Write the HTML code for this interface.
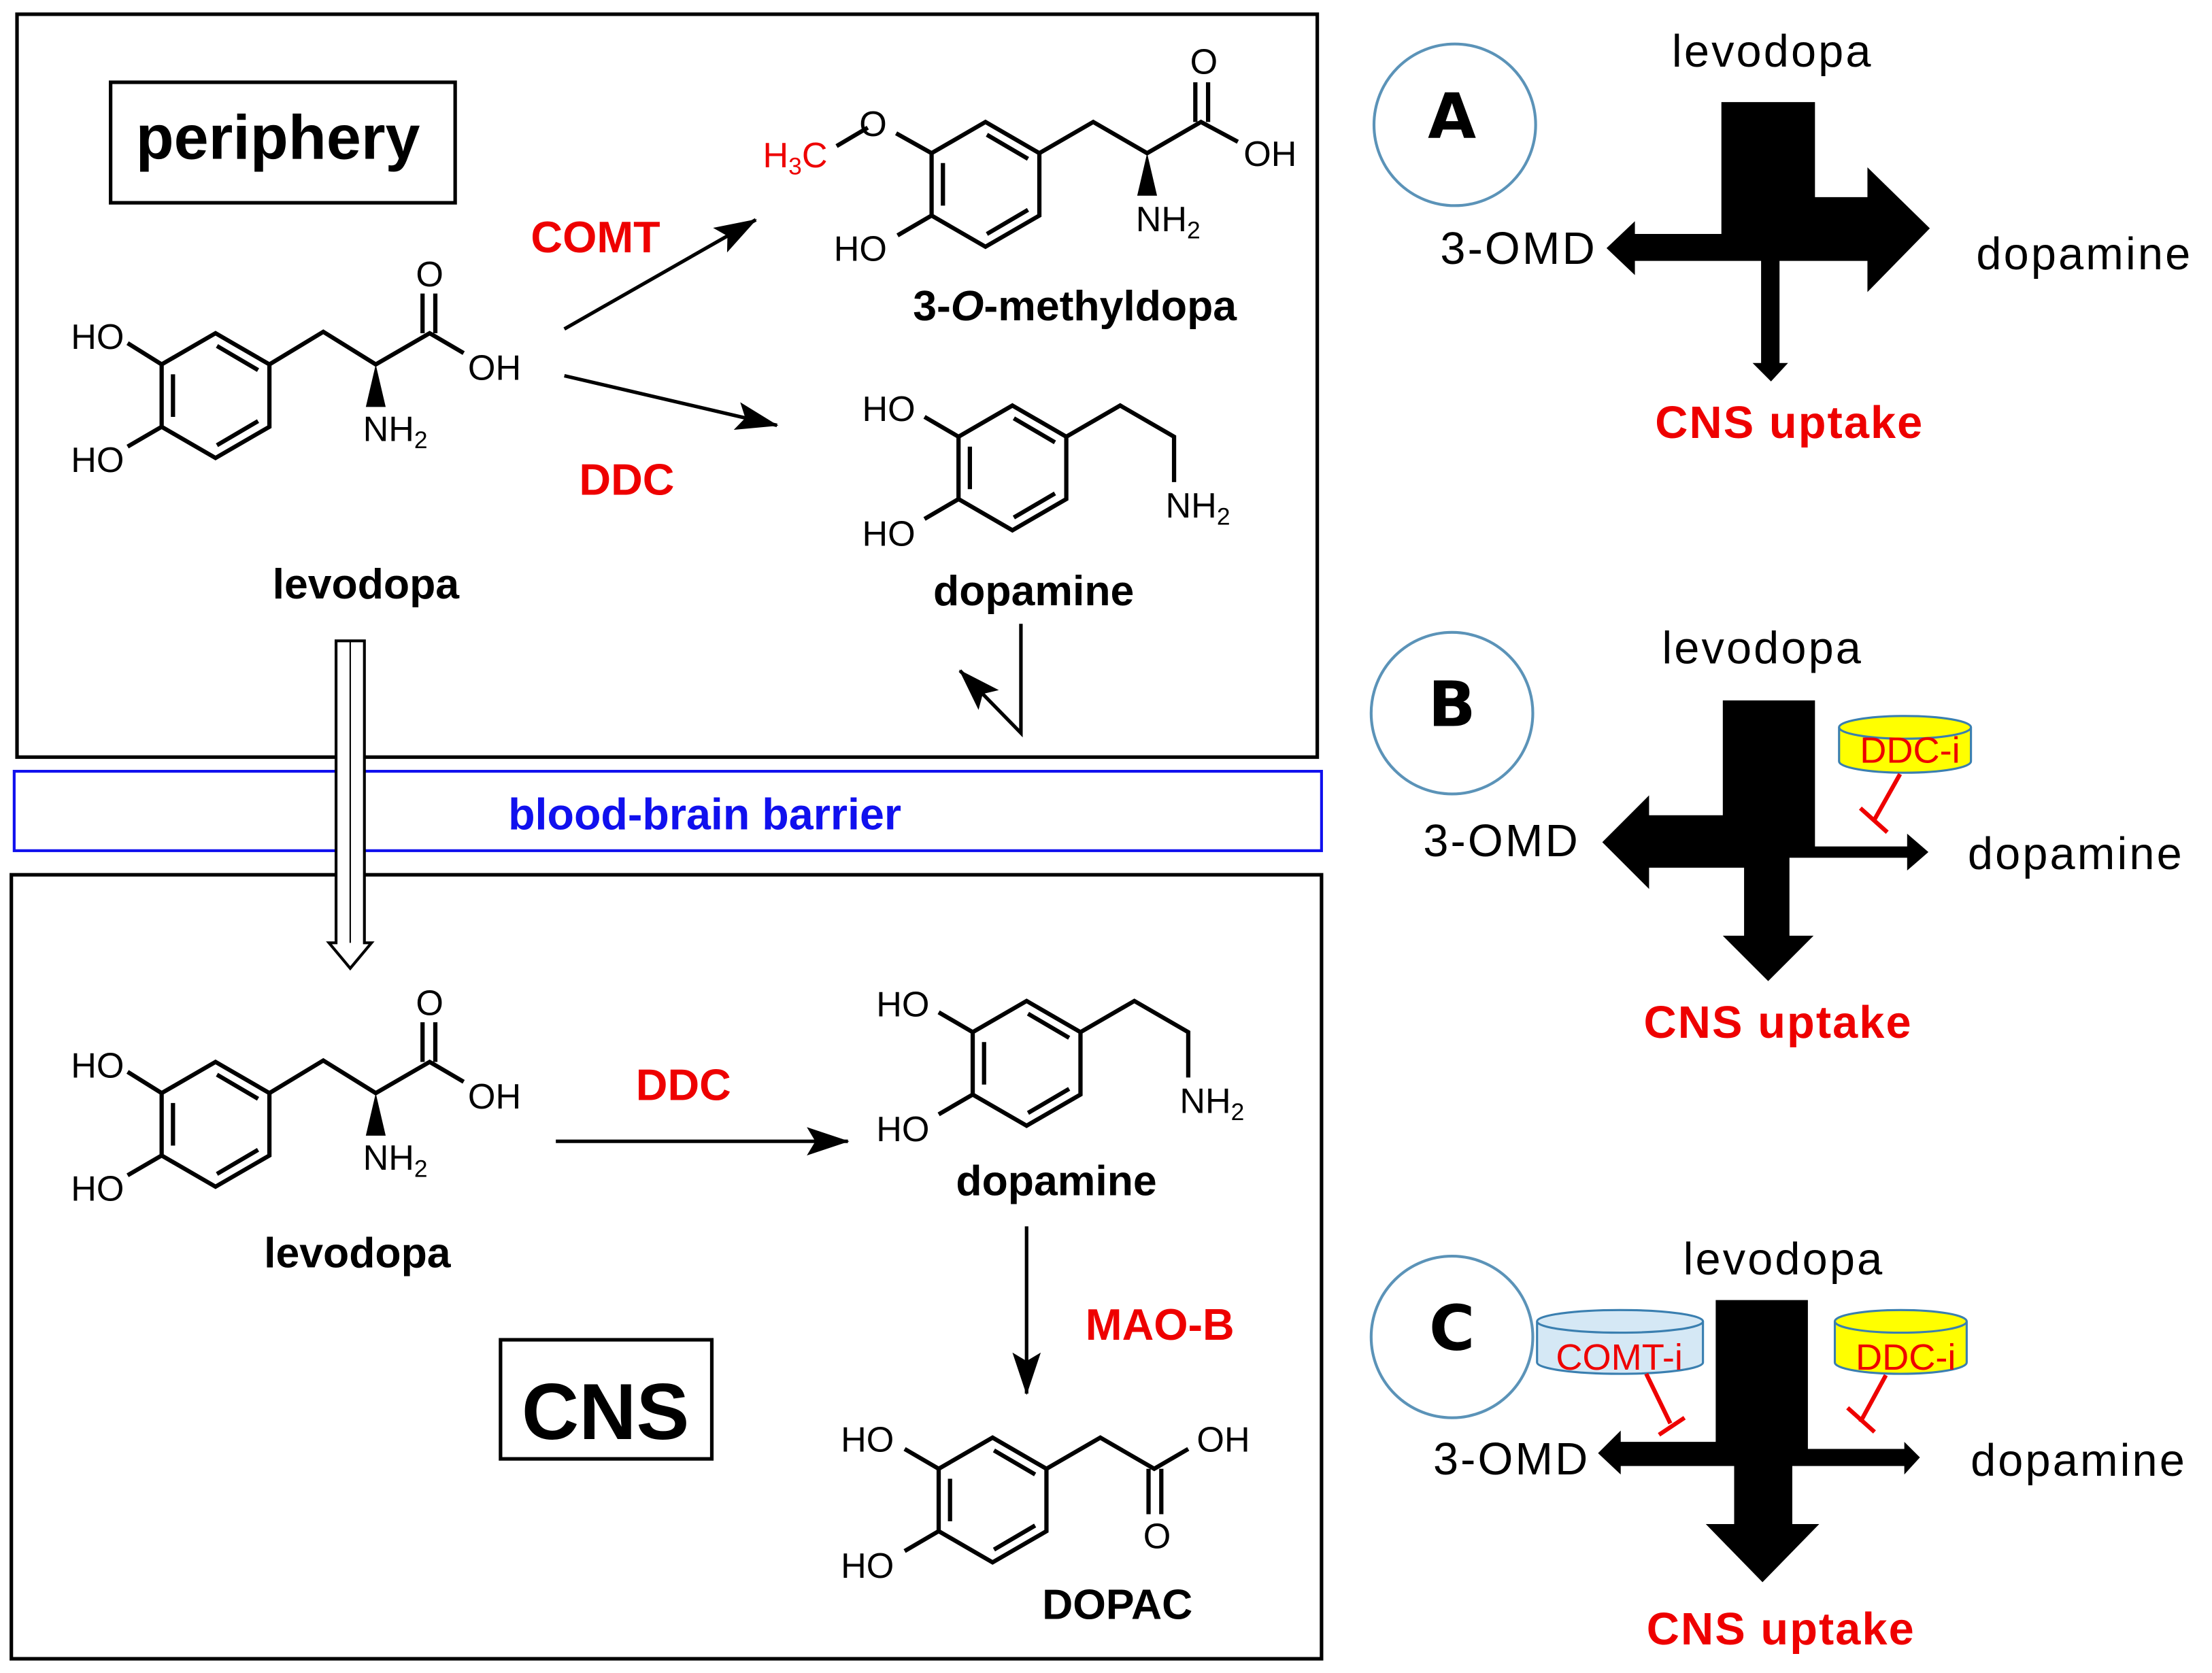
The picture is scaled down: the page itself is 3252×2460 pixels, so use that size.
<!DOCTYPE html>
<html><head><meta charset="utf-8"><style>html,body{margin:0;padding:0;background:#fff}svg{display:block}</style></head><body>
<svg width="3252" height="2460" viewBox="0 0 1560 1180" xmlns="http://www.w3.org/2000/svg" font-family="Liberation Sans, sans-serif">
<defs>
<g id="ring" stroke="#000" stroke-width="3" fill="none">
<polygon points="0,-44 38,-22 38,22 0,44 -38,22 -38,-22"/>
<line x1="1" y1="-35" x2="30" y2="-18"/>
<line x1="-30" y1="-15" x2="-30" y2="15"/>
<line x1="1" y1="35" x2="30" y2="18"/>
</g>
<marker id="ah2" viewBox="0 0 30 20" refX="29" refY="10" markerWidth="30" markerHeight="20" markerUnits="userSpaceOnUse" orient="auto"><path d="M0,0 L30,10 L0,20 L6,10z" fill="#000"/></marker>
</defs>
<rect width="1560" height="1180" fill="#fff"/>
<rect x="12" y="10" width="917" height="524" fill="none" stroke="#000" stroke-width="2.5"/>
<rect x="78" y="58" width="243" height="85" fill="none" stroke="#000" stroke-width="2.5"/>
<text x="196" y="112" font-size="44" font-weight="bold" text-anchor="middle">periphery</text>
<rect x="10" y="544" width="922" height="56" fill="none" stroke="#1010ee" stroke-width="2"/>
<text x="497" y="585" font-size="31" font-weight="bold" fill="#1010ee" text-anchor="middle">blood-brain barrier</text>
<rect x="8" y="617" width="924" height="553" fill="none" stroke="#000" stroke-width="2.5"/>
<rect x="353" y="945" width="149" height="84" fill="none" stroke="#000" stroke-width="2.5"/>
<text x="427" y="1015" font-size="56" font-weight="bold" text-anchor="middle">CNS</text>

<g font-size="25">
<g id="ldopa">
<use href="#ring" x="152" y="279"/>
<g stroke="#000" stroke-width="3" fill="none">
<polyline points="190,257 228,234 265,257 303,235 327,249"/>
<line x1="298" y1="235" x2="298" y2="207"/><line x1="307" y1="235" x2="307" y2="207"/>
<line x1="114" y1="257" x2="90" y2="242"/><line x1="114" y1="301" x2="90" y2="315"/>
</g>
<polygon points="265,257 258,287 272,287" fill="#000"/>
<text x="303" y="202" text-anchor="middle">O</text>
<text x="330" y="268">OH</text>
<text x="50" y="246">HO</text>
<text x="50" y="333">HO</text>
<text x="256" y="311">NH<tspan font-size="17" dy="5">2</tspan></text>
</g>
<use href="#ldopa" y="514"/>
<use href="#ring" x="695" y="130"/>
<g stroke="#000" stroke-width="3" fill="none">
<polyline points="733,108 771,86 809,108 847,86 873,100"/>
<line x1="843" y1="86" x2="843" y2="58"/><line x1="852" y1="86" x2="852" y2="58"/>
<line x1="657" y1="108" x2="632" y2="94"/><line x1="612" y1="90" x2="590" y2="103"/>
<line x1="657" y1="152" x2="633" y2="166"/>
</g>
<polygon points="809,108 802,138 816,138" fill="#000"/>
<text x="849" y="52" text-anchor="middle">O</text>
<text x="877" y="117">OH</text>
<text x="606" y="96">O</text>
<text x="538" y="118" fill="#e00">H<tspan font-size="17" dy="5">3</tspan><tspan dy="-5">C</tspan></text>
<text x="588" y="184">HO</text>
<text x="801" y="163">NH<tspan font-size="17" dy="5">2</tspan></text>
<text x="758" y="226" font-size="30" font-weight="bold" text-anchor="middle">3-<tspan font-style="italic">O</tspan>-methyldopa</text>
<g id="dopa">
<use href="#ring" x="714" y="330"/>
<g stroke="#000" stroke-width="3" fill="none">
<polyline points="752,308 790,286 828,308 828,340"/>
<line x1="676" y1="308" x2="652" y2="294"/><line x1="676" y1="352" x2="652" y2="366"/>
</g>
<text x="608" y="297">HO</text>
<text x="608" y="385">HO</text>
<text x="822" y="365">NH<tspan font-size="17" dy="5">2</tspan></text>
</g>
<use href="#dopa" x="10" y="420"/>
<use href="#ring" x="700" y="1058"/>
<g stroke="#000" stroke-width="3" fill="none">
<polyline points="738,1036 776,1014 814,1036 838,1022"/>
<line x1="810" y1="1036" x2="810" y2="1068"/><line x1="819" y1="1036" x2="819" y2="1068"/>
<line x1="662" y1="1036" x2="638" y2="1022"/><line x1="662" y1="1080" x2="638" y2="1094"/>
</g>
<text x="816" y="1092" text-anchor="middle">O</text>
<text x="844" y="1024">OH</text>
<text x="593" y="1024">HO</text>
<text x="593" y="1113">HO</text>
</g>
<g font-size="30" font-weight="bold" text-anchor="middle">
<text x="258" y="422">levodopa</text>
<text x="729" y="427">dopamine</text>
<text x="252" y="894">levodopa</text>
<text x="745" y="843">dopamine</text>
<text x="788" y="1142">DOPAC</text>
</g>
<g font-size="31" font-weight="bold" fill="#e00" text-anchor="middle">
<text x="420" y="178">COMT</text>
<text x="442" y="349">DDC</text>
<text x="482" y="776">DDC</text>
<text x="818" y="945">MAO-B</text>
</g>
<g stroke="#000" stroke-width="2.5" fill="none">
<line x1="398" y1="232" x2="533" y2="155" marker-end="url(#ah2)"/>
<line x1="398" y1="265" x2="548" y2="300" marker-end="url(#ah2)"/>
<line x1="392" y1="805" x2="598" y2="805" marker-end="url(#ah2)"/>
<line x1="724" y1="865" x2="724" y2="983" marker-end="url(#ah2)"/>
<polyline points="720,440 720,517 677,473" marker-end="url(#ah2)"/>
</g>
<path d="M237,452 H257 V665 H262 L247,683 L232,665 H237 Z" fill="#fff" stroke="#000" stroke-width="2"/>
<line x1="247" y1="452" x2="247" y2="665" stroke="#000" stroke-width="1"/>

<!-- panel A -->
<circle cx="1026" cy="88" r="57" fill="none" stroke="#5b93b8" stroke-width="2"/>
<text x="1024" y="97" font-size="44" font-weight="bold" text-anchor="middle" font-family="DejaVu Sans, sans-serif">A</text>
<g font-size="32" text-anchor="middle" letter-spacing="1.5">
<text x="1250" y="47">levodopa</text>
<text x="1071" y="186">3-OMD</text>
<text x="1470" y="190">dopamine</text>
</g>
<text x="1262" y="309" font-size="32" font-weight="bold" fill="#e00" text-anchor="middle" letter-spacing="1">CNS uptake</text>
<path d="M1214,72 H1280 V139 H1317 V118 L1361,161 L1317,206 V184 H1255 V256 H1261 L1249,269 L1236,256 H1242 V184 H1153 V194 L1133,175 L1153,156 V165 H1214 Z" fill="#000"/>

<!-- panel B -->
<circle cx="1024" cy="503" r="57" fill="none" stroke="#5b93b8" stroke-width="2"/>
<text x="1024" y="512" font-size="44" font-weight="bold" text-anchor="middle" font-family="DejaVu Sans, sans-serif">B</text>
<g font-size="32" text-anchor="middle" letter-spacing="1.5">
<text x="1243" y="468">levodopa</text>
<text x="1059" y="604">3-OMD</text>
<text x="1464" y="613">dopamine</text>
</g>
<text x="1254" y="732" font-size="32" font-weight="bold" fill="#e00" text-anchor="middle" letter-spacing="1">CNS uptake</text>
<path d="M1215,494 H1280 V597 H1345 V588 L1360,601 L1345,614 V605 H1262 V660 H1279 L1247,692 L1215,660 H1230 V612 H1163 V627 L1130,594 L1163,561 V575 H1215 Z" fill="#000"/>
<g>
<path d="M1297,513 V537 A46.5,8 0 0 0 1390,537 V513" fill="#ffff00" stroke="#3a7fb0" stroke-width="1.5"/>
<ellipse cx="1343.5" cy="513" rx="46.5" ry="8" fill="#ffff00" stroke="#3a7fb0" stroke-width="1.5"/>
<text x="1347" y="538" font-size="26" fill="#e00" text-anchor="middle">DDC-i</text>
<line x1="1340" y1="546" x2="1322" y2="578" stroke="#e00" stroke-width="3"/>
<line x1="1312" y1="570" x2="1331" y2="587" stroke="#e00" stroke-width="3"/>
</g>

<!-- panel C -->
<circle cx="1024" cy="943" r="57" fill="none" stroke="#5b93b8" stroke-width="2"/>
<text x="1024" y="952" font-size="44" font-weight="bold" text-anchor="middle" font-family="DejaVu Sans, sans-serif">C</text>
<g font-size="32" text-anchor="middle" letter-spacing="1.5">
<text x="1258" y="899">levodopa</text>
<text x="1066" y="1040">3-OMD</text>
<text x="1466" y="1041">dopamine</text>
</g>
<text x="1256" y="1160" font-size="32" font-weight="bold" fill="#e00" text-anchor="middle" letter-spacing="1">CNS uptake</text>
<path d="M1210,917 H1275 V1022 H1343 V1017 L1354,1028 L1343,1040 V1034 H1264 V1075 H1283 L1243,1116 L1203,1075 H1223 V1034 H1143 V1040 L1127,1025 L1143,1009 V1017 H1210 Z" fill="#000"/>
<g>
<path d="M1084,932 V961 A58.5,8 0 0 0 1201,961 V932" fill="#d5e8f5" stroke="#3a7fb0" stroke-width="1.5"/>
<ellipse cx="1142.5" cy="932" rx="58.5" ry="8" fill="#d5e8f5" stroke="#3a7fb0" stroke-width="1.5"/>
<text x="1142" y="966" font-size="26" fill="#e00" text-anchor="middle">COMT-i</text>
<path d="M1294,932 V961 A46.5,8 0 0 0 1387,961 V932" fill="#ffff00" stroke="#3a7fb0" stroke-width="1.5"/>
<ellipse cx="1340.5" cy="932" rx="46.5" ry="8" fill="#ffff00" stroke="#3a7fb0" stroke-width="1.5"/>
<text x="1344" y="966" font-size="26" fill="#e00" text-anchor="middle">DDC-i</text>
<line x1="1161" y1="969" x2="1178" y2="1004" stroke="#e00" stroke-width="3"/>
<line x1="1170" y1="1012" x2="1188" y2="1000" stroke="#e00" stroke-width="3"/>
<line x1="1330" y1="970" x2="1312" y2="1003" stroke="#e00" stroke-width="3"/>
<line x1="1303" y1="993" x2="1322" y2="1010" stroke="#e00" stroke-width="3"/>
</g>
</svg>
</body></html>
